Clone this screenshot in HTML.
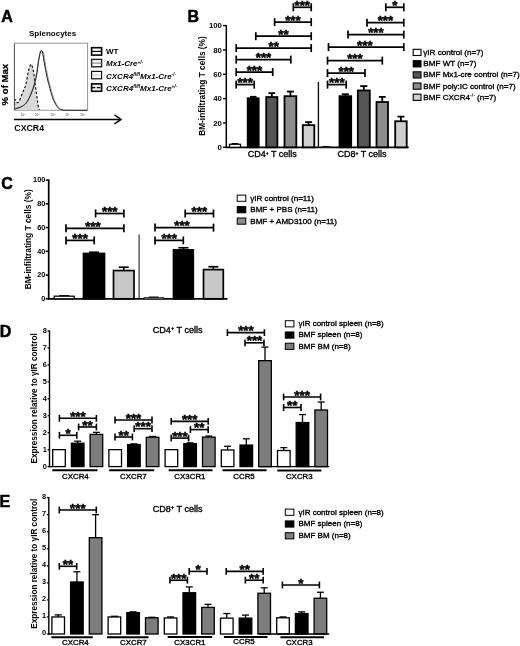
<!DOCTYPE html>
<html lang="en"><head><meta charset="utf-8"><title>Figure</title>
<style>html,body{margin:0;padding:0;background:#fff}body{width:520px;height:646px;overflow:hidden}svg{display:block;filter:blur(0.35px);font-family:'Liberation Sans', Arial, sans-serif}</style>
</head><body>
<svg width="520" height="646" viewBox="0 0 520 646">
<rect x="0" y="0" width="520" height="646" fill="#fff"/>
<text x="1.2" y="22" font-size="16" font-weight="bold" font-style="normal" text-anchor="start" fill="#000" stroke="#000" stroke-width="0.5">A</text>
<text x="52.6" y="35.5" font-size="8.0" font-weight="bold" font-style="normal" text-anchor="middle" fill="#000">Splenocytes</text>
<rect x="14.3" y="43.2" width="73.3" height="67" fill="#fff" stroke="#8a8a8a" stroke-width="0.9"/>
<path d="M14.6,109.8 C14.60,108.42 14.42,103.18 14.6,101.5 C14.78,99.82 15.27,99.48 15.7,99.7 C16.13,99.92 16.58,102.65 17.2,102.8 C17.82,102.95 18.67,101.87 19.4,100.6 C20.13,99.33 20.90,96.92 21.6,95.2 C22.30,93.48 22.93,91.97 23.6,90.3 C24.27,88.63 24.88,87.92 25.6,85.2 C26.32,82.48 27.27,76.97 27.9,74 C28.53,71.03 28.88,69.02 29.4,67.4 C29.92,65.78 30.55,64.50 31.0,64.3 C31.45,64.10 31.65,64.80 32.1,66.2 C32.55,67.60 33.17,69.43 33.7,72.7 C34.23,75.97 34.75,81.72 35.3,85.8 C35.85,89.88 36.53,93.93 37,97.2 C37.47,100.47 37.72,103.30 38.1,105.4 C38.48,107.50 39.10,109.07 39.3,109.8 Z" fill="#d9d9d9" stroke="none"/>
<path d="M14.6,109.8 C14.60,108.42 14.42,103.18 14.6,101.5 C14.78,99.82 15.27,99.48 15.7,99.7 C16.13,99.92 16.58,102.65 17.2,102.8 C17.82,102.95 18.67,101.87 19.4,100.6 C20.13,99.33 20.90,96.92 21.6,95.2 C22.30,93.48 22.93,91.97 23.6,90.3 C24.27,88.63 24.88,87.92 25.6,85.2 C26.32,82.48 27.27,76.97 27.9,74 C28.53,71.03 28.88,69.02 29.4,67.4 C29.92,65.78 30.55,64.50 31.0,64.3 C31.45,64.10 31.65,64.80 32.1,66.2 C32.55,67.60 33.17,69.43 33.7,72.7 C34.23,75.97 34.75,81.72 35.3,85.8 C35.85,89.88 36.53,93.93 37,97.2 C37.47,100.47 37.72,103.30 38.1,105.4 C38.48,107.50 39.10,109.07 39.3,109.8" fill="none" stroke="#111" stroke-width="1.15" stroke-dasharray="2.6 1.8"/>
<path d="M14.1,109.7 C14.28,109.58 14.47,109.28 15.2,109.0 C15.93,108.72 17.40,108.40 18.5,108.0 C19.60,107.60 20.58,107.38 21.8,106.6 C23.02,105.82 24.45,105.07 25.8,103.3 C27.15,101.53 28.53,99.13 29.9,96.0 C31.27,92.87 32.90,88.32 34.0,84.5 C35.10,80.68 35.82,76.92 36.5,73.1 C37.18,69.28 37.57,64.87 38.1,61.6 C38.63,58.33 39.23,55.27 39.7,53.5 C40.17,51.73 40.25,51.07 40.9,51.0 C41.55,50.93 42.88,51.12 43.6,53.1 C44.32,55.08 44.52,59.08 45.2,62.9 C45.88,66.72 46.88,72.18 47.7,76 C48.52,79.82 49.15,82.27 50.1,85.8 C51.05,89.33 52.30,94.07 53.4,97.2 C54.50,100.33 55.62,102.70 56.7,104.6 C57.78,106.50 58.82,107.70 59.9,108.6 C60.98,109.50 62.65,109.77 63.2,110" fill="none" stroke="#9a9a9a" stroke-width="1.0"/>
<path d="M14.6,109.3 C14.78,109.18 14.97,108.88 15.7,108.6 C16.43,108.32 17.90,108.00 19,107.6 C20.10,107.20 21.08,106.98 22.3,106.2 C23.52,105.42 24.95,104.67 26.3,102.9 C27.65,101.13 29.03,98.73 30.4,95.6 C31.77,92.47 33.40,87.92 34.5,84.1 C35.60,80.28 36.32,76.52 37,72.7 C37.68,68.88 38.07,64.47 38.6,61.2 C39.13,57.93 39.73,54.87 40.2,53.1 C40.67,51.33 40.98,50.60 41.4,50.6 C41.82,50.60 42.22,51.05 42.7,53.1 C43.18,55.15 43.62,59.08 44.3,62.9 C44.98,66.72 45.98,72.18 46.8,76 C47.62,79.82 48.25,82.27 49.2,85.8 C50.15,89.33 51.40,94.07 52.5,97.2 C53.60,100.33 54.72,102.70 55.8,104.6 C56.88,106.50 57.92,107.70 59,108.6 C60.08,109.50 60.47,109.72 62.3,110 C64.13,110.28 65.83,110.25 70,110.3 C74.17,110.35 84.42,110.30 87.3,110.3" fill="none" stroke="#1a1a1a" stroke-width="1.0"/>
<line x1="14.5" y1="44" x2="14.5" y2="110.3" stroke="#555" stroke-width="0.9"/>
<text x="8.3" y="84.6" font-size="9.6" font-weight="bold" font-style="normal" text-anchor="middle" fill="#000" transform="rotate(-90 8.3 84.6)" stroke="#000" stroke-width="0.25">% of Max</text>
<text x="23.1" y="116.3" font-size="3.0" font-weight="normal" font-style="normal" text-anchor="middle" fill="#444">10<tspan font-size="2.2" dy="-1.3">1</tspan></text>
<text x="37" y="116.3" font-size="3.0" font-weight="normal" font-style="normal" text-anchor="middle" fill="#444">10<tspan font-size="2.2" dy="-1.3">2</tspan></text>
<text x="52.8" y="116.3" font-size="3.0" font-weight="normal" font-style="normal" text-anchor="middle" fill="#444">10<tspan font-size="2.2" dy="-1.3">3</tspan></text>
<text x="67.5" y="116.3" font-size="3.0" font-weight="normal" font-style="normal" text-anchor="middle" fill="#444">10<tspan font-size="2.2" dy="-1.3">4</tspan></text>
<text x="82.7" y="116.3" font-size="3.0" font-weight="normal" font-style="normal" text-anchor="middle" fill="#444">10<tspan font-size="2.2" dy="-1.3">5</tspan></text>
<line x1="14" y1="119.4" x2="120" y2="119.4" stroke="#000" stroke-width="1.5"/>
<path d="M114.5,114.9 L121,119.4 L114.5,123.9" fill="none" stroke="#000" stroke-width="1.5"/>
<text x="14.3" y="130.7" font-size="8.8" font-weight="bold" font-style="normal" text-anchor="start" fill="#000">CXCR4</text>
<rect x="91.6" y="47.7" width="10" height="7.4" fill="#fff" stroke="#000" stroke-width="1.6"/>
<line x1="91.9" y1="51.4" x2="101.3" y2="51.4" stroke="#000" stroke-width="1.2"/>
<rect x="91.6" y="59.4" width="10" height="7.4" fill="#fff" stroke="#222" stroke-width="1.4"/>
<line x1="91.9" y1="63.1" x2="101.3" y2="63.1" stroke="#888" stroke-width="1.2"/>
<rect x="91.6" y="71.4" width="10" height="7.4" fill="#fff" stroke="#111" stroke-width="1.2"/>
<line x1="91.9" y1="75.1" x2="101.3" y2="75.1" stroke="#ccc" stroke-width="1.2"/>
<rect x="91.6" y="83.9" width="10" height="7.4" fill="#ececec" stroke="#000" stroke-width="1.6"/>
<line x1="91.9" y1="87.6" x2="101.3" y2="87.6" stroke="#000" stroke-width="1.2" stroke-dasharray="3.4 1.6"/>
<text x="106" y="54.2" font-size="8.0" font-weight="bold" font-style="normal" text-anchor="start" fill="#000">WT</text>
<text x="106" y="66.4" font-size="8.0" font-weight="bold" font-style="italic">Mx1-Cre<tspan font-size="4.6" dy="-2.6">+/-</tspan></text>
<text x="106" y="78.7" font-size="8.0" font-weight="bold" font-style="italic">CXCR4<tspan font-size="4.6" dy="-2.6">fl/fl</tspan><tspan dy="2.6">Mx1-Cre</tspan><tspan font-size="4.6" dy="-2.6">-/-</tspan></text>
<text x="106" y="90.7" font-size="8.0" font-weight="bold" font-style="italic">CXCR4<tspan font-size="4.6" dy="-2.6">fl/fl</tspan><tspan dy="2.6">Mx1-Cre</tspan><tspan font-size="4.6" dy="-2.6">+/-</tspan></text>
<text x="187.5" y="22" font-size="16" font-weight="bold" font-style="normal" text-anchor="start" fill="#000" stroke="#000" stroke-width="0.5">B</text>
<line x1="226.3" y1="148.0" x2="226.3" y2="24.9" stroke="#000" stroke-width="1.5"/>
<line x1="223.0" y1="147.3" x2="226.3" y2="147.3" stroke="#000" stroke-width="1.4"/>
<text x="221.9" y="149.9" font-size="7.8" font-weight="bold" font-style="normal" text-anchor="end" fill="#000">0</text>
<line x1="223.0" y1="122.96" x2="226.3" y2="122.96" stroke="#000" stroke-width="1.4"/>
<text x="221.9" y="125.56" font-size="7.8" font-weight="bold" font-style="normal" text-anchor="end" fill="#000">20</text>
<line x1="223.0" y1="98.62" x2="226.3" y2="98.62" stroke="#000" stroke-width="1.4"/>
<text x="221.9" y="101.22" font-size="7.8" font-weight="bold" font-style="normal" text-anchor="end" fill="#000">40</text>
<line x1="223.0" y1="74.28" x2="226.3" y2="74.28" stroke="#000" stroke-width="1.4"/>
<text x="221.9" y="76.88" font-size="7.8" font-weight="bold" font-style="normal" text-anchor="end" fill="#000">60</text>
<line x1="223.0" y1="49.94" x2="226.3" y2="49.94" stroke="#000" stroke-width="1.4"/>
<text x="221.9" y="52.54" font-size="7.8" font-weight="bold" font-style="normal" text-anchor="end" fill="#000">80</text>
<line x1="223.0" y1="25.6" x2="226.3" y2="25.6" stroke="#000" stroke-width="1.4"/>
<text x="221.9" y="28.2" font-size="7.8" font-weight="bold" font-style="normal" text-anchor="end" fill="#000">100</text>
<line x1="225.5" y1="147.3" x2="408.7" y2="147.3" stroke="#000" stroke-width="1.7"/>
<text x="205.3" y="86" font-size="8.3" font-weight="bold" font-style="normal" text-anchor="middle" fill="#000" transform="rotate(-90 205.3 86)">BM-infiltrating T cells (%)</text>
<line x1="235.0" y1="144.26" x2="235.0" y2="143.89" stroke="#000" stroke-width="1.8"/>
<line x1="231.7" y1="143.89" x2="238.3" y2="143.89" stroke="#000" stroke-width="1.8"/>
<rect x="229.5" y="144.26" width="11" height="3.04" fill="#fff" stroke="#000" stroke-width="1.25"/>
<line x1="253.2" y1="98.25" x2="253.2" y2="96.79" stroke="#000" stroke-width="1.8"/>
<line x1="249.9" y1="96.79" x2="256.5" y2="96.79" stroke="#000" stroke-width="1.8"/>
<rect x="247.7" y="98.25" width="11" height="49.05" fill="#000" stroke="#000" stroke-width="1.8"/>
<line x1="271.8" y1="97.04" x2="271.8" y2="93.14" stroke="#000" stroke-width="1.8"/>
<line x1="268.44" y1="93.14" x2="275.16" y2="93.14" stroke="#000" stroke-width="1.8"/>
<rect x="266.2" y="97.04" width="11.2" height="50.26" fill="#555" stroke="#000" stroke-width="1.8"/>
<line x1="290.4" y1="96.19" x2="290.4" y2="91.56" stroke="#000" stroke-width="1.8"/>
<line x1="286.86" y1="91.56" x2="293.94" y2="91.56" stroke="#000" stroke-width="1.8"/>
<rect x="284.5" y="96.19" width="11.8" height="51.11" fill="#8c8c8c" stroke="#000" stroke-width="1.8"/>
<line x1="308.55" y1="125.15" x2="308.55" y2="122.11" stroke="#000" stroke-width="1.8"/>
<line x1="305.1" y1="122.11" x2="312.0" y2="122.11" stroke="#000" stroke-width="1.8"/>
<rect x="302.8" y="125.15" width="11.5" height="22.15" fill="#cfcfcf" stroke="#000" stroke-width="1.8"/>
<line x1="318.4" y1="82" x2="318.4" y2="147.3" stroke="#111" stroke-width="1.4"/>
<line x1="325.95" y1="146.93" x2="325.95" y2="146.81" stroke="#000" stroke-width="1.8"/>
<line x1="323.1" y1="146.81" x2="328.8" y2="146.81" stroke="#000" stroke-width="1.8"/>
<rect x="321.2" y="146.93" width="9.5" height="0.37" fill="#fff" stroke="#000" stroke-width="0.7"/>
<line x1="345.35" y1="96.19" x2="345.35" y2="94.24" stroke="#000" stroke-width="1.8"/>
<line x1="341.84" y1="94.24" x2="348.86" y2="94.24" stroke="#000" stroke-width="1.8"/>
<rect x="339.5" y="96.19" width="11.7" height="51.11" fill="#000" stroke="#000" stroke-width="1.8"/>
<line x1="363.8" y1="90.47" x2="363.8" y2="86.08" stroke="#000" stroke-width="1.8"/>
<line x1="360.2" y1="86.08" x2="367.4" y2="86.08" stroke="#000" stroke-width="1.8"/>
<rect x="357.8" y="90.47" width="12" height="56.83" fill="#555" stroke="#000" stroke-width="1.8"/>
<line x1="382.25" y1="102.03" x2="382.25" y2="96.92" stroke="#000" stroke-width="1.8"/>
<line x1="378.8" y1="96.92" x2="385.7" y2="96.92" stroke="#000" stroke-width="1.8"/>
<rect x="376.5" y="102.03" width="11.5" height="45.27" fill="#8c8c8c" stroke="#000" stroke-width="1.8"/>
<line x1="400.95" y1="121.26" x2="400.95" y2="116.63" stroke="#000" stroke-width="1.8"/>
<line x1="397.5" y1="116.63" x2="404.4" y2="116.63" stroke="#000" stroke-width="1.8"/>
<rect x="395.2" y="121.26" width="11.5" height="26.04" fill="#cfcfcf" stroke="#000" stroke-width="1.8"/>
<text x="272.3" y="157.4" font-size="9.0" font-weight="normal" font-style="normal" text-anchor="middle" fill="#000" stroke="#000" stroke-width="0.34">CD4<tspan font-size="5" dy="-2.8">+</tspan><tspan dy="2.8"> T cells</tspan></text>
<text x="362.0" y="157.4" font-size="9.0" font-weight="normal" font-style="normal" text-anchor="middle" fill="#000" stroke="#000" stroke-width="0.34">CD8<tspan font-size="5" dy="-2.8">+</tspan><tspan dy="2.8"> T cells</tspan></text>
<line x1="236.2" y1="84.6" x2="254.2" y2="84.6" stroke="#000" stroke-width="1.7"/>
<line x1="236.2" y1="80.6" x2="236.2" y2="88.6" stroke="#000" stroke-width="1.7"/>
<line x1="254.2" y1="80.6" x2="254.2" y2="88.6" stroke="#000" stroke-width="1.7"/>
<text x="245.2" y="87.1" font-size="13.3" font-weight="bold" font-style="normal" text-anchor="middle" fill="#000" stroke="#000" stroke-width="0.45">***</text>
<line x1="236.2" y1="72.1" x2="272.7" y2="72.1" stroke="#000" stroke-width="1.7"/>
<line x1="236.2" y1="68.1" x2="236.2" y2="76.1" stroke="#000" stroke-width="1.7"/>
<line x1="272.7" y1="68.1" x2="272.7" y2="76.1" stroke="#000" stroke-width="1.7"/>
<text x="254.45" y="74.6" font-size="13.3" font-weight="bold" font-style="normal" text-anchor="middle" fill="#000" stroke="#000" stroke-width="0.45">***</text>
<line x1="236.2" y1="59.6" x2="290.8" y2="59.6" stroke="#000" stroke-width="1.7"/>
<line x1="236.2" y1="55.6" x2="236.2" y2="63.6" stroke="#000" stroke-width="1.7"/>
<line x1="290.8" y1="55.6" x2="290.8" y2="63.6" stroke="#000" stroke-width="1.7"/>
<text x="263.5" y="62.1" font-size="13.3" font-weight="bold" font-style="normal" text-anchor="middle" fill="#000" stroke="#000" stroke-width="0.45">***</text>
<line x1="236.2" y1="48.1" x2="311.2" y2="48.1" stroke="#000" stroke-width="1.7"/>
<line x1="236.2" y1="44.1" x2="236.2" y2="52.1" stroke="#000" stroke-width="1.7"/>
<line x1="311.2" y1="44.1" x2="311.2" y2="52.1" stroke="#000" stroke-width="1.7"/>
<text x="273.7" y="50.6" font-size="13.3" font-weight="bold" font-style="normal" text-anchor="middle" fill="#000" stroke="#000" stroke-width="0.45">**</text>
<line x1="255.8" y1="36.2" x2="311.2" y2="36.2" stroke="#000" stroke-width="1.7"/>
<line x1="255.8" y1="32.2" x2="255.8" y2="40.2" stroke="#000" stroke-width="1.7"/>
<line x1="311.2" y1="32.2" x2="311.2" y2="40.2" stroke="#000" stroke-width="1.7"/>
<text x="283.5" y="38.7" font-size="13.3" font-weight="bold" font-style="normal" text-anchor="middle" fill="#000" stroke="#000" stroke-width="0.45">**</text>
<line x1="274.6" y1="22.1" x2="311.2" y2="22.1" stroke="#000" stroke-width="1.7"/>
<line x1="274.6" y1="18.1" x2="274.6" y2="26.1" stroke="#000" stroke-width="1.7"/>
<line x1="311.2" y1="18.1" x2="311.2" y2="26.1" stroke="#000" stroke-width="1.7"/>
<text x="292.9" y="24.6" font-size="13.3" font-weight="bold" font-style="normal" text-anchor="middle" fill="#000" stroke="#000" stroke-width="0.45">***</text>
<line x1="293.3" y1="7.3" x2="311.2" y2="7.3" stroke="#000" stroke-width="1.7"/>
<line x1="293.3" y1="3.3" x2="293.3" y2="11.3" stroke="#000" stroke-width="1.7"/>
<line x1="311.2" y1="3.3" x2="311.2" y2="11.3" stroke="#000" stroke-width="1.7"/>
<text x="302.25" y="9.8" font-size="13.3" font-weight="bold" font-style="normal" text-anchor="middle" fill="#000" stroke="#000" stroke-width="0.45">***</text>
<line x1="327.5" y1="84.6" x2="346.2" y2="84.6" stroke="#000" stroke-width="1.7"/>
<line x1="327.5" y1="80.6" x2="327.5" y2="88.6" stroke="#000" stroke-width="1.7"/>
<line x1="346.2" y1="80.6" x2="346.2" y2="88.6" stroke="#000" stroke-width="1.7"/>
<text x="336.85" y="87.1" font-size="13.3" font-weight="bold" font-style="normal" text-anchor="middle" fill="#000" stroke="#000" stroke-width="0.45">***</text>
<line x1="327.5" y1="73.1" x2="365" y2="73.1" stroke="#000" stroke-width="1.7"/>
<line x1="327.5" y1="69.1" x2="327.5" y2="77.1" stroke="#000" stroke-width="1.7"/>
<line x1="365" y1="69.1" x2="365" y2="77.1" stroke="#000" stroke-width="1.7"/>
<text x="346.25" y="75.6" font-size="13.3" font-weight="bold" font-style="normal" text-anchor="middle" fill="#000" stroke="#000" stroke-width="0.45">***</text>
<line x1="327.5" y1="60.6" x2="382.3" y2="60.6" stroke="#000" stroke-width="1.7"/>
<line x1="327.5" y1="56.6" x2="327.5" y2="64.6" stroke="#000" stroke-width="1.7"/>
<line x1="382.3" y1="56.6" x2="382.3" y2="64.6" stroke="#000" stroke-width="1.7"/>
<text x="354.9" y="63.1" font-size="13.3" font-weight="bold" font-style="normal" text-anchor="middle" fill="#000" stroke="#000" stroke-width="0.45">***</text>
<line x1="328.5" y1="47.1" x2="403.8" y2="47.1" stroke="#000" stroke-width="1.7"/>
<line x1="328.5" y1="43.1" x2="328.5" y2="51.1" stroke="#000" stroke-width="1.7"/>
<line x1="403.8" y1="43.1" x2="403.8" y2="51.1" stroke="#000" stroke-width="1.7"/>
<text x="364.8" y="49.6" font-size="13.3" font-weight="bold" font-style="normal" text-anchor="middle" fill="#000" stroke="#000" stroke-width="0.45">***</text>
<line x1="348" y1="34.6" x2="403.8" y2="34.6" stroke="#000" stroke-width="1.7"/>
<line x1="348" y1="30.6" x2="348" y2="38.6" stroke="#000" stroke-width="1.7"/>
<line x1="403.8" y1="30.6" x2="403.8" y2="38.6" stroke="#000" stroke-width="1.7"/>
<text x="375.9" y="37.1" font-size="13.3" font-weight="bold" font-style="normal" text-anchor="middle" fill="#000" stroke="#000" stroke-width="0.45">***</text>
<line x1="367" y1="22.7" x2="403.8" y2="22.7" stroke="#000" stroke-width="1.7"/>
<line x1="367" y1="18.7" x2="367" y2="26.7" stroke="#000" stroke-width="1.7"/>
<line x1="403.8" y1="18.7" x2="403.8" y2="26.7" stroke="#000" stroke-width="1.7"/>
<text x="385.4" y="25.2" font-size="13.3" font-weight="bold" font-style="normal" text-anchor="middle" fill="#000" stroke="#000" stroke-width="0.45">***</text>
<line x1="385.8" y1="7.3" x2="403.8" y2="7.3" stroke="#000" stroke-width="1.7"/>
<line x1="385.8" y1="3.3" x2="385.8" y2="11.3" stroke="#000" stroke-width="1.7"/>
<line x1="403.8" y1="3.3" x2="403.8" y2="11.3" stroke="#000" stroke-width="1.7"/>
<text x="394.8" y="9.8" font-size="13.3" font-weight="bold" font-style="normal" text-anchor="middle" fill="#000" stroke="#000" stroke-width="0.45">*</text>
<rect x="413.2" y="49.3" width="7.8" height="6.2" fill="#fff" stroke="#000" stroke-width="1.1"/>
<text x="423.3" y="54.9" font-size="8.1" font-weight="normal" font-style="normal" text-anchor="start" fill="#000" stroke="#000" stroke-width="0.34">γIR control (n=7)</text>
<rect x="413.2" y="60.7" width="7.8" height="6.2" fill="#000" stroke="#000" stroke-width="1.1"/>
<text x="423.3" y="66.3" font-size="8.1" font-weight="normal" font-style="normal" text-anchor="start" fill="#000" stroke="#000" stroke-width="0.34">BMF WT (n=7)</text>
<rect x="413.2" y="71.8" width="7.8" height="6.2" fill="#555" stroke="#000" stroke-width="1.1"/>
<text x="423.3" y="77.4" font-size="8.1" font-weight="normal" font-style="normal" text-anchor="start" fill="#000" stroke="#000" stroke-width="0.34">BMF Mx1-cre control (n=7)</text>
<rect x="413.2" y="83.0" width="7.8" height="6.2" fill="#8c8c8c" stroke="#000" stroke-width="1.1"/>
<text x="423.3" y="88.6" font-size="8.1" font-weight="normal" font-style="normal" text-anchor="start" fill="#000" stroke="#000" stroke-width="0.34">BMF poly:IC control (n=7)</text>
<rect x="413.2" y="94.2" width="7.8" height="6.2" fill="#cfcfcf" stroke="#000" stroke-width="1.1"/>
<text x="423.3" y="99.8" font-size="8.1" font-weight="normal" font-style="normal" text-anchor="start" fill="#000" stroke="#000" stroke-width="0.34">BMF CXCR4<tspan font-size="5" dy="-2.8" stroke-width="0.1">-/-</tspan><tspan dy="2.8"> (n=7)</tspan></text>
<text x="1.2" y="188.7" font-size="16" font-weight="bold" font-style="normal" text-anchor="start" fill="#000" stroke="#000" stroke-width="0.5">C</text>
<line x1="48.7" y1="299.6" x2="48.7" y2="179.3" stroke="#000" stroke-width="1.7"/>
<line x1="45.7" y1="298.8" x2="48.7" y2="298.8" stroke="#000" stroke-width="1.5"/>
<text x="45.3" y="301.0" font-size="7.3" font-weight="bold" font-style="normal" text-anchor="end" fill="#000">0</text>
<line x1="45.7" y1="275.06" x2="48.7" y2="275.06" stroke="#000" stroke-width="1.5"/>
<text x="45.3" y="277.26" font-size="7.3" font-weight="bold" font-style="normal" text-anchor="end" fill="#000">20</text>
<line x1="45.7" y1="251.32" x2="48.7" y2="251.32" stroke="#000" stroke-width="1.5"/>
<text x="45.3" y="253.52" font-size="7.3" font-weight="bold" font-style="normal" text-anchor="end" fill="#000">40</text>
<line x1="45.7" y1="227.58" x2="48.7" y2="227.58" stroke="#000" stroke-width="1.5"/>
<text x="45.3" y="229.78" font-size="7.3" font-weight="bold" font-style="normal" text-anchor="end" fill="#000">60</text>
<line x1="45.7" y1="203.84" x2="48.7" y2="203.84" stroke="#000" stroke-width="1.5"/>
<text x="45.3" y="206.04" font-size="7.3" font-weight="bold" font-style="normal" text-anchor="end" fill="#000">80</text>
<line x1="45.7" y1="180.1" x2="48.7" y2="180.1" stroke="#000" stroke-width="1.5"/>
<text x="45.3" y="182.3" font-size="7.3" font-weight="bold" font-style="normal" text-anchor="end" fill="#000">100</text>
<line x1="47.9" y1="298.8" x2="227.5" y2="298.8" stroke="#000" stroke-width="1.7"/>
<text x="30.6" y="239.3" font-size="8.35" font-weight="bold" font-style="normal" text-anchor="middle" fill="#000" transform="rotate(-90 30.6 239.3)">BM-infiltrating T cells (%)</text>
<line x1="64.2" y1="296.19" x2="64.2" y2="295.95" stroke="#000" stroke-width="1.7"/>
<line x1="59.2" y1="295.95" x2="69.2" y2="295.95" stroke="#000" stroke-width="1.7"/>
<rect x="54.2" y="296.19" width="20" height="2.61" fill="#fff" stroke="#000" stroke-width="1.25"/>
<line x1="94.0" y1="253.46" x2="94.0" y2="252.27" stroke="#000" stroke-width="1.7"/>
<line x1="89.0" y1="252.27" x2="99.0" y2="252.27" stroke="#000" stroke-width="1.7"/>
<rect x="83.5" y="253.46" width="21" height="45.34" fill="#000" stroke="#000" stroke-width="1.7"/>
<line x1="123.75" y1="270.55" x2="123.75" y2="267.23" stroke="#000" stroke-width="1.7"/>
<line x1="118.75" y1="267.23" x2="128.75" y2="267.23" stroke="#000" stroke-width="1.7"/>
<rect x="113.5" y="270.55" width="20.5" height="28.25" fill="#c8c8c8" stroke="#000" stroke-width="1.7"/>
<line x1="153.75" y1="297.61" x2="153.75" y2="297.38" stroke="#000" stroke-width="1.7"/>
<line x1="148.75" y1="297.38" x2="158.75" y2="297.38" stroke="#000" stroke-width="1.7"/>
<rect x="144" y="297.61" width="19.5" height="1.19" fill="#fff" stroke="#000" stroke-width="0.7"/>
<line x1="183.4" y1="249.9" x2="183.4" y2="247.76" stroke="#000" stroke-width="1.7"/>
<line x1="178.4" y1="247.76" x2="188.4" y2="247.76" stroke="#000" stroke-width="1.7"/>
<rect x="173.5" y="249.9" width="19.8" height="48.9" fill="#000" stroke="#000" stroke-width="1.7"/>
<line x1="213.4" y1="269.6" x2="213.4" y2="266.75" stroke="#000" stroke-width="1.7"/>
<line x1="208.4" y1="266.75" x2="218.4" y2="266.75" stroke="#000" stroke-width="1.7"/>
<rect x="203.5" y="269.6" width="19.8" height="29.2" fill="#c8c8c8" stroke="#000" stroke-width="1.7"/>
<line x1="139.1" y1="234.5" x2="139.1" y2="298.8" stroke="#222" stroke-width="1.1"/>
<line x1="66" y1="240.4" x2="94.2" y2="240.4" stroke="#000" stroke-width="1.7"/>
<line x1="66" y1="236.4" x2="66" y2="244.4" stroke="#000" stroke-width="1.7"/>
<line x1="94.2" y1="236.4" x2="94.2" y2="244.4" stroke="#000" stroke-width="1.7"/>
<text x="80.1" y="242.9" font-size="13.3" font-weight="bold" font-style="normal" text-anchor="middle" fill="#000" stroke="#000" stroke-width="0.45">***</text>
<line x1="66" y1="228.3" x2="123.9" y2="228.3" stroke="#000" stroke-width="1.7"/>
<line x1="66" y1="224.3" x2="66" y2="232.3" stroke="#000" stroke-width="1.7"/>
<line x1="123.9" y1="224.3" x2="123.9" y2="232.3" stroke="#000" stroke-width="1.7"/>
<text x="93" y="230.8" font-size="13.3" font-weight="bold" font-style="normal" text-anchor="middle" fill="#000" stroke="#000" stroke-width="0.45">***</text>
<line x1="95.6" y1="213.5" x2="123.9" y2="213.5" stroke="#000" stroke-width="1.7"/>
<line x1="95.6" y1="209.5" x2="95.6" y2="217.5" stroke="#000" stroke-width="1.7"/>
<line x1="123.9" y1="209.5" x2="123.9" y2="217.5" stroke="#000" stroke-width="1.7"/>
<text x="109.75" y="216.0" font-size="13.3" font-weight="bold" font-style="normal" text-anchor="middle" fill="#000" stroke="#000" stroke-width="0.45">***</text>
<line x1="155" y1="240.4" x2="183.3" y2="240.4" stroke="#000" stroke-width="1.7"/>
<line x1="155" y1="236.4" x2="155" y2="244.4" stroke="#000" stroke-width="1.7"/>
<line x1="183.3" y1="236.4" x2="183.3" y2="244.4" stroke="#000" stroke-width="1.7"/>
<text x="169.15" y="242.9" font-size="13.3" font-weight="bold" font-style="normal" text-anchor="middle" fill="#000" stroke="#000" stroke-width="0.45">***</text>
<line x1="155" y1="227.6" x2="213.5" y2="227.6" stroke="#000" stroke-width="1.7"/>
<line x1="155" y1="223.6" x2="155" y2="231.6" stroke="#000" stroke-width="1.7"/>
<line x1="213.5" y1="223.6" x2="213.5" y2="231.6" stroke="#000" stroke-width="1.7"/>
<text x="182" y="230.1" font-size="13.3" font-weight="bold" font-style="normal" text-anchor="middle" fill="#000" stroke="#000" stroke-width="0.45">***</text>
<line x1="185.2" y1="213.5" x2="213.5" y2="213.5" stroke="#000" stroke-width="1.7"/>
<line x1="185.2" y1="209.5" x2="185.2" y2="217.5" stroke="#000" stroke-width="1.7"/>
<line x1="213.5" y1="209.5" x2="213.5" y2="217.5" stroke="#000" stroke-width="1.7"/>
<text x="199.35" y="216.0" font-size="13.3" font-weight="bold" font-style="normal" text-anchor="middle" fill="#000" stroke="#000" stroke-width="0.45">***</text>
<rect x="237.2" y="195.1" width="8.6" height="6.2" fill="#fff" stroke="#000" stroke-width="1.0"/>
<text x="250.3" y="200.9" font-size="8.05" font-weight="normal" font-style="normal" text-anchor="start" fill="#000" stroke="#000" stroke-width="0.34">γIR control (n=11)</text>
<rect x="237.2" y="206.6" width="8.6" height="6.2" fill="#000" stroke="#000" stroke-width="1.0"/>
<text x="250.3" y="212.4" font-size="8.05" font-weight="normal" font-style="normal" text-anchor="start" fill="#000" stroke="#000" stroke-width="0.34">BMF + PBS (n=11)</text>
<rect x="237.2" y="218.0" width="8.6" height="6.2" fill="#8c8c8c" stroke="#000" stroke-width="1.0"/>
<text x="250.3" y="223.8" font-size="8.05" font-weight="normal" font-style="normal" text-anchor="start" fill="#000" stroke="#000" stroke-width="0.34">BMF + AMD3100 (n=11)</text>
<text x="-0.2" y="337.0" font-size="16" font-weight="bold" font-style="normal" text-anchor="start" fill="#000" stroke="#000" stroke-width="0.5">D</text>
<line x1="49.5" y1="467.3" x2="49.5" y2="330.35" stroke="#000" stroke-width="1.4"/>
<line x1="47.6" y1="466.6" x2="49.5" y2="466.6" stroke="#000" stroke-width="1.3"/>
<text x="46.8" y="468.8" font-size="7.4" font-weight="bold" font-style="normal" text-anchor="end" fill="#000">0</text>
<line x1="47.6" y1="449.65" x2="49.5" y2="449.65" stroke="#000" stroke-width="1.3"/>
<text x="46.8" y="451.85" font-size="7.4" font-weight="bold" font-style="normal" text-anchor="end" fill="#000">1</text>
<line x1="47.6" y1="432.7" x2="49.5" y2="432.7" stroke="#000" stroke-width="1.3"/>
<text x="46.8" y="434.9" font-size="7.4" font-weight="bold" font-style="normal" text-anchor="end" fill="#000">2</text>
<line x1="47.6" y1="415.75" x2="49.5" y2="415.75" stroke="#000" stroke-width="1.3"/>
<text x="46.8" y="417.95" font-size="7.4" font-weight="bold" font-style="normal" text-anchor="end" fill="#000">3</text>
<line x1="47.6" y1="398.8" x2="49.5" y2="398.8" stroke="#000" stroke-width="1.3"/>
<text x="46.8" y="401" font-size="7.4" font-weight="bold" font-style="normal" text-anchor="end" fill="#000">4</text>
<line x1="47.6" y1="381.85" x2="49.5" y2="381.85" stroke="#000" stroke-width="1.3"/>
<text x="46.8" y="384.05" font-size="7.4" font-weight="bold" font-style="normal" text-anchor="end" fill="#000">5</text>
<line x1="47.6" y1="364.9" x2="49.5" y2="364.9" stroke="#000" stroke-width="1.3"/>
<text x="46.8" y="367.1" font-size="7.4" font-weight="bold" font-style="normal" text-anchor="end" fill="#000">6</text>
<line x1="47.6" y1="347.95" x2="49.5" y2="347.95" stroke="#000" stroke-width="1.3"/>
<text x="46.8" y="350.15" font-size="7.4" font-weight="bold" font-style="normal" text-anchor="end" fill="#000">7</text>
<line x1="47.6" y1="331.0" x2="49.5" y2="331.0" stroke="#000" stroke-width="1.3"/>
<text x="46.8" y="333.2" font-size="7.4" font-weight="bold" font-style="normal" text-anchor="end" fill="#000">8</text>
<line x1="48.8" y1="466.6" x2="52.5" y2="466.6" stroke="#000" stroke-width="1.4"/>
<text x="37.2" y="398.4" font-size="8.2" font-weight="bold" font-style="normal" text-anchor="middle" fill="#000" transform="rotate(-90 37.2 398.4)">Expression relative to γIR control</text>
<text x="177.7" y="333" font-size="9.1" font-weight="normal" font-style="normal" text-anchor="middle" fill="#000" stroke="#000" stroke-width="0.34">CD4<tspan font-size="5.5" dy="-3">+</tspan><tspan dy="3"> T cells</tspan></text>
<rect x="52.7" y="449.65" width="12.6" height="16.95" fill="#fff" stroke="#000" stroke-width="1.3"/>
<line x1="77.7" y1="443.21" x2="77.7" y2="441.18" stroke="#000" stroke-width="1.3"/>
<line x1="74.2" y1="441.18" x2="81.2" y2="441.18" stroke="#000" stroke-width="1.3"/>
<rect x="71.4" y="443.21" width="12.6" height="23.39" fill="#000" stroke="#000" stroke-width="1.3"/>
<line x1="96.4" y1="434.4" x2="96.4" y2="432.36" stroke="#000" stroke-width="1.3"/>
<line x1="92.9" y1="432.36" x2="99.9" y2="432.36" stroke="#000" stroke-width="1.3"/>
<rect x="90.1" y="434.4" width="12.6" height="32.2" fill="#7d7d7d" stroke="#000" stroke-width="1.3"/>
<line x1="52.3" y1="470.3" x2="97.5" y2="470.3" stroke="#000" stroke-width="2.0"/>
<text x="75.4" y="479.0" font-size="7.9" font-weight="normal" font-style="normal" text-anchor="middle" fill="#000" stroke="#000" stroke-width="0.34">CXCR4</text>
<rect x="108.9" y="449.65" width="12.6" height="16.95" fill="#fff" stroke="#000" stroke-width="1.3"/>
<line x1="133.9" y1="444.56" x2="133.9" y2="443.89" stroke="#000" stroke-width="1.3"/>
<line x1="130.4" y1="443.89" x2="137.4" y2="443.89" stroke="#000" stroke-width="1.3"/>
<rect x="127.6" y="444.56" width="12.6" height="22.04" fill="#000" stroke="#000" stroke-width="1.3"/>
<line x1="152.6" y1="437.28" x2="152.6" y2="436.43" stroke="#000" stroke-width="1.3"/>
<line x1="149.1" y1="436.43" x2="156.1" y2="436.43" stroke="#000" stroke-width="1.3"/>
<rect x="146.3" y="437.28" width="12.6" height="29.32" fill="#7d7d7d" stroke="#000" stroke-width="1.3"/>
<line x1="109.2" y1="470.3" x2="154.2" y2="470.3" stroke="#000" stroke-width="2.0"/>
<text x="133.4" y="479.0" font-size="7.9" font-weight="normal" font-style="normal" text-anchor="middle" fill="#000" stroke="#000" stroke-width="0.34">CXCR7</text>
<rect x="165.1" y="449.65" width="12.6" height="16.95" fill="#fff" stroke="#000" stroke-width="1.3"/>
<line x1="190.1" y1="443.72" x2="190.1" y2="442.87" stroke="#000" stroke-width="1.3"/>
<line x1="186.6" y1="442.87" x2="193.6" y2="442.87" stroke="#000" stroke-width="1.3"/>
<rect x="183.8" y="443.72" width="12.6" height="22.88" fill="#000" stroke="#000" stroke-width="1.3"/>
<line x1="208.8" y1="437.11" x2="208.8" y2="436.09" stroke="#000" stroke-width="1.3"/>
<line x1="205.3" y1="436.09" x2="212.3" y2="436.09" stroke="#000" stroke-width="1.3"/>
<rect x="202.5" y="437.11" width="12.6" height="29.49" fill="#7d7d7d" stroke="#000" stroke-width="1.3"/>
<line x1="168.7" y1="470.2" x2="212.5" y2="470.2" stroke="#000" stroke-width="2.0"/>
<text x="189.9" y="478.8" font-size="7.9" font-weight="normal" font-style="normal" text-anchor="middle" fill="#000" stroke="#000" stroke-width="0.34">CX3CR1</text>
<line x1="227.6" y1="449.99" x2="227.6" y2="446.26" stroke="#000" stroke-width="1.3"/>
<line x1="224.1" y1="446.26" x2="231.1" y2="446.26" stroke="#000" stroke-width="1.3"/>
<rect x="221.3" y="449.99" width="12.6" height="16.61" fill="#fff" stroke="#000" stroke-width="1.3"/>
<line x1="246.3" y1="445.07" x2="246.3" y2="438.8" stroke="#000" stroke-width="1.3"/>
<line x1="242.8" y1="438.8" x2="249.8" y2="438.8" stroke="#000" stroke-width="1.3"/>
<rect x="240.0" y="445.07" width="12.6" height="21.53" fill="#000" stroke="#000" stroke-width="1.3"/>
<line x1="265" y1="360.66" x2="265" y2="347.1" stroke="#000" stroke-width="1.3"/>
<line x1="261.5" y1="347.1" x2="268.5" y2="347.1" stroke="#000" stroke-width="1.3"/>
<rect x="258.7" y="360.66" width="12.6" height="105.94" fill="#7d7d7d" stroke="#000" stroke-width="1.3"/>
<line x1="222.5" y1="470.2" x2="266.6" y2="470.2" stroke="#000" stroke-width="2.0"/>
<text x="244" y="478.8" font-size="7.9" font-weight="normal" font-style="normal" text-anchor="middle" fill="#000" stroke="#000" stroke-width="0.34">CCR5</text>
<line x1="283.8" y1="450.5" x2="283.8" y2="447.62" stroke="#000" stroke-width="1.3"/>
<line x1="280.3" y1="447.62" x2="287.3" y2="447.62" stroke="#000" stroke-width="1.3"/>
<rect x="277.5" y="450.5" width="12.6" height="16.1" fill="#fff" stroke="#000" stroke-width="1.3"/>
<line x1="302.5" y1="422.53" x2="302.5" y2="414.56" stroke="#000" stroke-width="1.3"/>
<line x1="299" y1="414.56" x2="306" y2="414.56" stroke="#000" stroke-width="1.3"/>
<rect x="296.2" y="422.53" width="12.6" height="44.07" fill="#000" stroke="#000" stroke-width="1.3"/>
<line x1="321.2" y1="409.99" x2="321.2" y2="402.02" stroke="#000" stroke-width="1.3"/>
<line x1="317.7" y1="402.02" x2="324.7" y2="402.02" stroke="#000" stroke-width="1.3"/>
<rect x="314.9" y="409.99" width="12.6" height="56.61" fill="#7d7d7d" stroke="#000" stroke-width="1.3"/>
<line x1="277.3" y1="470.6" x2="321.4" y2="470.6" stroke="#000" stroke-width="2.0"/>
<text x="299.3" y="478.9" font-size="7.9" font-weight="normal" font-style="normal" text-anchor="middle" fill="#000" stroke="#000" stroke-width="0.34">CXCR3</text>
<line x1="259" y1="466.6" x2="329.2" y2="466.6" stroke="#000" stroke-width="1.3"/>
<line x1="59.4" y1="418.3" x2="96.4" y2="418.3" stroke="#000" stroke-width="1.6"/>
<line x1="59.4" y1="414.9" x2="59.4" y2="421.7" stroke="#000" stroke-width="1.6"/>
<line x1="96.4" y1="414.9" x2="96.4" y2="421.7" stroke="#000" stroke-width="1.6"/>
<text x="77.9" y="420.8" font-size="13.3" font-weight="bold" font-style="normal" text-anchor="middle" fill="#000" stroke="#000" stroke-width="0.45">***</text>
<line x1="59.4" y1="435.3" x2="76.8" y2="435.3" stroke="#000" stroke-width="1.6"/>
<line x1="59.4" y1="431.9" x2="59.4" y2="438.7" stroke="#000" stroke-width="1.6"/>
<line x1="76.8" y1="431.9" x2="76.8" y2="438.7" stroke="#000" stroke-width="1.6"/>
<text x="68.1" y="437.8" font-size="13.3" font-weight="bold" font-style="normal" text-anchor="middle" fill="#000" stroke="#000" stroke-width="0.45">*</text>
<line x1="78.6" y1="427" x2="96.4" y2="427" stroke="#000" stroke-width="1.6"/>
<line x1="78.6" y1="423.6" x2="78.6" y2="430.4" stroke="#000" stroke-width="1.6"/>
<line x1="96.4" y1="423.6" x2="96.4" y2="430.4" stroke="#000" stroke-width="1.6"/>
<text x="87.5" y="429.5" font-size="13.3" font-weight="bold" font-style="normal" text-anchor="middle" fill="#000" stroke="#000" stroke-width="0.45">**</text>
<line x1="115" y1="420" x2="152" y2="420" stroke="#000" stroke-width="1.6"/>
<line x1="115" y1="416.6" x2="115" y2="423.4" stroke="#000" stroke-width="1.6"/>
<line x1="152" y1="416.6" x2="152" y2="423.4" stroke="#000" stroke-width="1.6"/>
<text x="133.5" y="422.5" font-size="13.3" font-weight="bold" font-style="normal" text-anchor="middle" fill="#000" stroke="#000" stroke-width="0.45">***</text>
<line x1="115" y1="437" x2="132.4" y2="437" stroke="#000" stroke-width="1.6"/>
<line x1="115" y1="433.6" x2="115" y2="440.4" stroke="#000" stroke-width="1.6"/>
<line x1="132.4" y1="433.6" x2="132.4" y2="440.4" stroke="#000" stroke-width="1.6"/>
<text x="123.7" y="439.5" font-size="13.3" font-weight="bold" font-style="normal" text-anchor="middle" fill="#000" stroke="#000" stroke-width="0.45">**</text>
<line x1="134.2" y1="428.7" x2="152" y2="428.7" stroke="#000" stroke-width="1.6"/>
<line x1="134.2" y1="425.3" x2="134.2" y2="432.1" stroke="#000" stroke-width="1.6"/>
<line x1="152" y1="425.3" x2="152" y2="432.1" stroke="#000" stroke-width="1.6"/>
<text x="143.1" y="431.2" font-size="13.3" font-weight="bold" font-style="normal" text-anchor="middle" fill="#000" stroke="#000" stroke-width="0.45">***</text>
<line x1="171.2" y1="421.4" x2="208.2" y2="421.4" stroke="#000" stroke-width="1.6"/>
<line x1="171.2" y1="418.0" x2="171.2" y2="424.8" stroke="#000" stroke-width="1.6"/>
<line x1="208.2" y1="418.0" x2="208.2" y2="424.8" stroke="#000" stroke-width="1.6"/>
<text x="189.7" y="423.9" font-size="13.3" font-weight="bold" font-style="normal" text-anchor="middle" fill="#000" stroke="#000" stroke-width="0.45">***</text>
<line x1="171.2" y1="438.1" x2="188.6" y2="438.1" stroke="#000" stroke-width="1.6"/>
<line x1="171.2" y1="434.7" x2="171.2" y2="441.5" stroke="#000" stroke-width="1.6"/>
<line x1="188.6" y1="434.7" x2="188.6" y2="441.5" stroke="#000" stroke-width="1.6"/>
<text x="179.9" y="440.6" font-size="13.3" font-weight="bold" font-style="normal" text-anchor="middle" fill="#000" stroke="#000" stroke-width="0.45">***</text>
<line x1="190.4" y1="429.6" x2="208.2" y2="429.6" stroke="#000" stroke-width="1.6"/>
<line x1="190.4" y1="426.2" x2="190.4" y2="433.0" stroke="#000" stroke-width="1.6"/>
<line x1="208.2" y1="426.2" x2="208.2" y2="433.0" stroke="#000" stroke-width="1.6"/>
<text x="199.3" y="432.1" font-size="13.3" font-weight="bold" font-style="normal" text-anchor="middle" fill="#000" stroke="#000" stroke-width="0.45">**</text>
<line x1="227.4" y1="332.6" x2="264.4" y2="332.6" stroke="#000" stroke-width="1.6"/>
<line x1="227.4" y1="329.2" x2="227.4" y2="336.0" stroke="#000" stroke-width="1.6"/>
<line x1="264.4" y1="329.2" x2="264.4" y2="336.0" stroke="#000" stroke-width="1.6"/>
<text x="245.9" y="335.1" font-size="13.3" font-weight="bold" font-style="normal" text-anchor="middle" fill="#000" stroke="#000" stroke-width="0.45">***</text>
<line x1="245.0" y1="342.8" x2="264" y2="342.8" stroke="#000" stroke-width="1.6"/>
<line x1="245.0" y1="339.4" x2="245.0" y2="346.2" stroke="#000" stroke-width="1.6"/>
<line x1="264" y1="339.4" x2="264" y2="346.2" stroke="#000" stroke-width="1.6"/>
<text x="254.5" y="345.3" font-size="13.3" font-weight="bold" font-style="normal" text-anchor="middle" fill="#000" stroke="#000" stroke-width="0.45">***</text>
<line x1="283.6" y1="397" x2="320.6" y2="397" stroke="#000" stroke-width="1.6"/>
<line x1="283.6" y1="393.6" x2="283.6" y2="400.4" stroke="#000" stroke-width="1.6"/>
<line x1="320.6" y1="393.6" x2="320.6" y2="400.4" stroke="#000" stroke-width="1.6"/>
<text x="302.1" y="399.5" font-size="13.3" font-weight="bold" font-style="normal" text-anchor="middle" fill="#000" stroke="#000" stroke-width="0.45">***</text>
<line x1="283.6" y1="407.5" x2="301" y2="407.5" stroke="#000" stroke-width="1.6"/>
<line x1="283.6" y1="404.1" x2="283.6" y2="410.9" stroke="#000" stroke-width="1.6"/>
<line x1="301" y1="404.1" x2="301" y2="410.9" stroke="#000" stroke-width="1.6"/>
<text x="292.3" y="410.0" font-size="13.3" font-weight="bold" font-style="normal" text-anchor="middle" fill="#000" stroke="#000" stroke-width="0.45">**</text>
<rect x="285.3" y="320.7" width="8.6" height="6.2" fill="#fff" stroke="#000" stroke-width="1.0"/>
<text x="298.4" y="326.2" font-size="8.02" font-weight="normal" font-style="normal" text-anchor="start" fill="#000" stroke="#000" stroke-width="0.34">γIR control spleen (n=8)</text>
<rect x="285.3" y="331.95" width="8.6" height="6.2" fill="#000" stroke="#000" stroke-width="1.0"/>
<text x="298.4" y="337.45" font-size="8.02" font-weight="normal" font-style="normal" text-anchor="start" fill="#000" stroke="#000" stroke-width="0.34">BMF spleen (n=8)</text>
<rect x="285.3" y="343.2" width="8.6" height="6.2" fill="#7d7d7d" stroke="#000" stroke-width="1.0"/>
<text x="298.4" y="348.7" font-size="8.02" font-weight="normal" font-style="normal" text-anchor="start" fill="#000" stroke="#000" stroke-width="0.34">BMF BM (n=8)</text>
<text x="-0.5" y="507.3" font-size="16" font-weight="bold" font-style="normal" text-anchor="start" fill="#000" stroke="#000" stroke-width="0.5">E</text>
<line x1="48.8" y1="634.7" x2="48.8" y2="496.95" stroke="#000" stroke-width="1.4"/>
<line x1="46.9" y1="634.0" x2="48.8" y2="634.0" stroke="#000" stroke-width="1.3"/>
<text x="46.1" y="635.4" font-size="7.4" font-weight="bold" font-style="normal" text-anchor="end" fill="#000">0</text>
<line x1="46.9" y1="616.95" x2="48.8" y2="616.95" stroke="#000" stroke-width="1.3"/>
<text x="46.1" y="618.35" font-size="7.4" font-weight="bold" font-style="normal" text-anchor="end" fill="#000">1</text>
<line x1="46.9" y1="599.9" x2="48.8" y2="599.9" stroke="#000" stroke-width="1.3"/>
<text x="46.1" y="601.3" font-size="7.4" font-weight="bold" font-style="normal" text-anchor="end" fill="#000">2</text>
<line x1="46.9" y1="582.85" x2="48.8" y2="582.85" stroke="#000" stroke-width="1.3"/>
<text x="46.1" y="584.25" font-size="7.4" font-weight="bold" font-style="normal" text-anchor="end" fill="#000">3</text>
<line x1="46.9" y1="565.8" x2="48.8" y2="565.8" stroke="#000" stroke-width="1.3"/>
<text x="46.1" y="567.2" font-size="7.4" font-weight="bold" font-style="normal" text-anchor="end" fill="#000">4</text>
<line x1="46.9" y1="548.75" x2="48.8" y2="548.75" stroke="#000" stroke-width="1.3"/>
<text x="46.1" y="550.15" font-size="7.4" font-weight="bold" font-style="normal" text-anchor="end" fill="#000">5</text>
<line x1="46.9" y1="531.7" x2="48.8" y2="531.7" stroke="#000" stroke-width="1.3"/>
<text x="46.1" y="533.1" font-size="7.4" font-weight="bold" font-style="normal" text-anchor="end" fill="#000">6</text>
<line x1="46.9" y1="514.65" x2="48.8" y2="514.65" stroke="#000" stroke-width="1.3"/>
<text x="46.1" y="516.05" font-size="7.4" font-weight="bold" font-style="normal" text-anchor="end" fill="#000">7</text>
<line x1="46.9" y1="497.6" x2="48.8" y2="497.6" stroke="#000" stroke-width="1.3"/>
<text x="46.1" y="499" font-size="7.4" font-weight="bold" font-style="normal" text-anchor="end" fill="#000">8</text>
<line x1="48.1" y1="634.0" x2="51.8" y2="634.0" stroke="#000" stroke-width="1.4"/>
<text x="37.2" y="563.7" font-size="8.2" font-weight="bold" font-style="normal" text-anchor="middle" fill="#000" transform="rotate(-90 37.2 563.7)">Expression relative to γIR control</text>
<text x="177.7" y="512.2" font-size="9.1" font-weight="normal" font-style="normal" text-anchor="middle" fill="#000" stroke="#000" stroke-width="0.34">CD8<tspan font-size="5.5" dy="-3">+</tspan><tspan dy="3"> T cells</tspan></text>
<line x1="58.2" y1="616.95" x2="58.2" y2="614.9" stroke="#000" stroke-width="1.3"/>
<line x1="54.7" y1="614.9" x2="61.7" y2="614.9" stroke="#000" stroke-width="1.3"/>
<rect x="51.9" y="616.95" width="12.6" height="17.05" fill="#fff" stroke="#000" stroke-width="1.3"/>
<line x1="76.9" y1="582" x2="76.9" y2="571.77" stroke="#000" stroke-width="1.3"/>
<line x1="73.4" y1="571.77" x2="80.4" y2="571.77" stroke="#000" stroke-width="1.3"/>
<rect x="70.6" y="582" width="12.6" height="52" fill="#000" stroke="#000" stroke-width="1.3"/>
<line x1="95.6" y1="537.67" x2="95.6" y2="514.65" stroke="#000" stroke-width="1.3"/>
<line x1="92.1" y1="514.65" x2="99.1" y2="514.65" stroke="#000" stroke-width="1.3"/>
<rect x="89.3" y="537.67" width="12.6" height="96.33" fill="#7d7d7d" stroke="#000" stroke-width="1.3"/>
<line x1="51.4" y1="637.3" x2="92.8" y2="637.3" stroke="#000" stroke-width="1.9"/>
<text x="75.4" y="644.7" font-size="7.9" font-weight="normal" font-style="normal" text-anchor="middle" fill="#000" stroke="#000" stroke-width="0.34">CXCR4</text>
<line x1="114.4" y1="616.95" x2="114.4" y2="616.27" stroke="#000" stroke-width="1.3"/>
<line x1="110.9" y1="616.27" x2="117.9" y2="616.27" stroke="#000" stroke-width="1.3"/>
<rect x="108.1" y="616.95" width="12.6" height="17.05" fill="#fff" stroke="#000" stroke-width="1.3"/>
<line x1="133.1" y1="612.69" x2="133.1" y2="611.84" stroke="#000" stroke-width="1.3"/>
<line x1="129.6" y1="611.84" x2="136.6" y2="611.84" stroke="#000" stroke-width="1.3"/>
<rect x="126.8" y="612.69" width="12.6" height="21.31" fill="#000" stroke="#000" stroke-width="1.3"/>
<line x1="151.8" y1="617.8" x2="151.8" y2="617.29" stroke="#000" stroke-width="1.3"/>
<line x1="148.3" y1="617.29" x2="155.3" y2="617.29" stroke="#000" stroke-width="1.3"/>
<rect x="145.5" y="617.8" width="12.6" height="16.2" fill="#7d7d7d" stroke="#000" stroke-width="1.3"/>
<line x1="107" y1="637.3" x2="148.5" y2="637.3" stroke="#000" stroke-width="1.9"/>
<text x="133.4" y="644.7" font-size="7.9" font-weight="normal" font-style="normal" text-anchor="middle" fill="#000" stroke="#000" stroke-width="0.34">CXCR7</text>
<line x1="170.6" y1="617.97" x2="170.6" y2="616.95" stroke="#000" stroke-width="1.3"/>
<line x1="167.1" y1="616.95" x2="174.1" y2="616.95" stroke="#000" stroke-width="1.3"/>
<rect x="164.3" y="617.97" width="12.6" height="16.03" fill="#fff" stroke="#000" stroke-width="1.3"/>
<line x1="189.3" y1="592.74" x2="189.3" y2="586.94" stroke="#000" stroke-width="1.3"/>
<line x1="185.8" y1="586.94" x2="192.8" y2="586.94" stroke="#000" stroke-width="1.3"/>
<rect x="183" y="592.74" width="12.6" height="41.26" fill="#000" stroke="#000" stroke-width="1.3"/>
<line x1="208.0" y1="607.4" x2="208.0" y2="604.33" stroke="#000" stroke-width="1.3"/>
<line x1="204.5" y1="604.33" x2="211.5" y2="604.33" stroke="#000" stroke-width="1.3"/>
<rect x="201.7" y="607.4" width="12.6" height="26.6" fill="#7d7d7d" stroke="#000" stroke-width="1.3"/>
<line x1="167.7" y1="637.0" x2="212.3" y2="637.0" stroke="#000" stroke-width="1.9"/>
<text x="189.9" y="644.5" font-size="7.9" font-weight="normal" font-style="normal" text-anchor="middle" fill="#000" stroke="#000" stroke-width="0.34">CX3CR1</text>
<line x1="226.8" y1="618.14" x2="226.8" y2="613.54" stroke="#000" stroke-width="1.3"/>
<line x1="223.3" y1="613.54" x2="230.3" y2="613.54" stroke="#000" stroke-width="1.3"/>
<rect x="220.5" y="618.14" width="12.6" height="15.86" fill="#fff" stroke="#000" stroke-width="1.3"/>
<line x1="245.5" y1="618.14" x2="245.5" y2="615.07" stroke="#000" stroke-width="1.3"/>
<line x1="242" y1="615.07" x2="249" y2="615.07" stroke="#000" stroke-width="1.3"/>
<rect x="239.2" y="618.14" width="12.6" height="15.86" fill="#000" stroke="#000" stroke-width="1.3"/>
<line x1="264.2" y1="593.25" x2="264.2" y2="587.79" stroke="#000" stroke-width="1.3"/>
<line x1="260.7" y1="587.79" x2="267.7" y2="587.79" stroke="#000" stroke-width="1.3"/>
<rect x="257.9" y="593.25" width="12.6" height="40.75" fill="#7d7d7d" stroke="#000" stroke-width="1.3"/>
<line x1="224" y1="637.0" x2="267.5" y2="637.0" stroke="#000" stroke-width="1.9"/>
<text x="244" y="644.4" font-size="7.9" font-weight="normal" font-style="normal" text-anchor="middle" fill="#000" stroke="#000" stroke-width="0.34">CCR5</text>
<line x1="283" y1="617.8" x2="283" y2="616.95" stroke="#000" stroke-width="1.3"/>
<line x1="279.5" y1="616.95" x2="286.5" y2="616.95" stroke="#000" stroke-width="1.3"/>
<rect x="276.7" y="617.8" width="12.6" height="16.2" fill="#fff" stroke="#000" stroke-width="1.3"/>
<line x1="301.7" y1="613.54" x2="301.7" y2="611.83" stroke="#000" stroke-width="1.3"/>
<line x1="298.2" y1="611.83" x2="305.2" y2="611.83" stroke="#000" stroke-width="1.3"/>
<rect x="295.4" y="613.54" width="12.6" height="20.46" fill="#000" stroke="#000" stroke-width="1.3"/>
<line x1="320.4" y1="598.2" x2="320.4" y2="592.23" stroke="#000" stroke-width="1.3"/>
<line x1="316.9" y1="592.23" x2="323.9" y2="592.23" stroke="#000" stroke-width="1.3"/>
<rect x="314.1" y="598.2" width="12.6" height="35.8" fill="#7d7d7d" stroke="#000" stroke-width="1.3"/>
<line x1="280.4" y1="637.2" x2="324" y2="637.2" stroke="#000" stroke-width="1.9"/>
<text x="299.3" y="645.2" font-size="7.9" font-weight="normal" font-style="normal" text-anchor="middle" fill="#000" stroke="#000" stroke-width="0.34">CXCR3</text>
<line x1="259" y1="634.0" x2="329.2" y2="634.0" stroke="#000" stroke-width="1.3"/>
<line x1="59.3" y1="510" x2="96.3" y2="510" stroke="#000" stroke-width="1.6"/>
<line x1="59.3" y1="506.6" x2="59.3" y2="513.4" stroke="#000" stroke-width="1.6"/>
<line x1="96.3" y1="506.6" x2="96.3" y2="513.4" stroke="#000" stroke-width="1.6"/>
<text x="77.8" y="512.5" font-size="13.3" font-weight="bold" font-style="normal" text-anchor="middle" fill="#000" stroke="#000" stroke-width="0.45">***</text>
<line x1="59.3" y1="566.3" x2="76.7" y2="566.3" stroke="#000" stroke-width="1.6"/>
<line x1="59.3" y1="562.9" x2="59.3" y2="569.7" stroke="#000" stroke-width="1.6"/>
<line x1="76.7" y1="562.9" x2="76.7" y2="569.7" stroke="#000" stroke-width="1.6"/>
<text x="68.0" y="568.8" font-size="13.3" font-weight="bold" font-style="normal" text-anchor="middle" fill="#000" stroke="#000" stroke-width="0.45">**</text>
<line x1="170" y1="580.2" x2="187.4" y2="580.2" stroke="#000" stroke-width="1.6"/>
<line x1="170" y1="576.8" x2="170" y2="583.6" stroke="#000" stroke-width="1.6"/>
<line x1="187.4" y1="576.8" x2="187.4" y2="583.6" stroke="#000" stroke-width="1.6"/>
<text x="178.7" y="582.7" font-size="13.3" font-weight="bold" font-style="normal" text-anchor="middle" fill="#000" stroke="#000" stroke-width="0.45">***</text>
<line x1="189.2" y1="571.4" x2="207.0" y2="571.4" stroke="#000" stroke-width="1.6"/>
<line x1="189.2" y1="568.0" x2="189.2" y2="574.8" stroke="#000" stroke-width="1.6"/>
<line x1="207.0" y1="568.0" x2="207.0" y2="574.8" stroke="#000" stroke-width="1.6"/>
<text x="198.1" y="573.9" font-size="13.3" font-weight="bold" font-style="normal" text-anchor="middle" fill="#000" stroke="#000" stroke-width="0.45">*</text>
<line x1="226.2" y1="571.4" x2="263.2" y2="571.4" stroke="#000" stroke-width="1.6"/>
<line x1="226.2" y1="568.0" x2="226.2" y2="574.8" stroke="#000" stroke-width="1.6"/>
<line x1="263.2" y1="568.0" x2="263.2" y2="574.8" stroke="#000" stroke-width="1.6"/>
<text x="244.7" y="573.9" font-size="13.3" font-weight="bold" font-style="normal" text-anchor="middle" fill="#000" stroke="#000" stroke-width="0.45">**</text>
<line x1="245.4" y1="580.2" x2="263.2" y2="580.2" stroke="#000" stroke-width="1.6"/>
<line x1="245.4" y1="576.8" x2="245.4" y2="583.6" stroke="#000" stroke-width="1.6"/>
<line x1="263.2" y1="576.8" x2="263.2" y2="583.6" stroke="#000" stroke-width="1.6"/>
<text x="254.3" y="582.7" font-size="13.3" font-weight="bold" font-style="normal" text-anchor="middle" fill="#000" stroke="#000" stroke-width="0.45">**</text>
<line x1="282.4" y1="585" x2="319.4" y2="585" stroke="#000" stroke-width="1.6"/>
<line x1="282.4" y1="581.6" x2="282.4" y2="588.4" stroke="#000" stroke-width="1.6"/>
<line x1="319.4" y1="581.6" x2="319.4" y2="588.4" stroke="#000" stroke-width="1.6"/>
<text x="300.9" y="587.5" font-size="13.3" font-weight="bold" font-style="normal" text-anchor="middle" fill="#000" stroke="#000" stroke-width="0.45">*</text>
<rect x="285.3" y="509.1" width="8.6" height="6.2" fill="#fff" stroke="#000" stroke-width="1.0"/>
<text x="298.4" y="514.6" font-size="8.02" font-weight="normal" font-style="normal" text-anchor="start" fill="#000" stroke="#000" stroke-width="0.34">γIR control spleen (n=8)</text>
<rect x="285.3" y="520.9" width="8.6" height="6.2" fill="#000" stroke="#000" stroke-width="1.0"/>
<text x="298.4" y="526.4" font-size="8.02" font-weight="normal" font-style="normal" text-anchor="start" fill="#000" stroke="#000" stroke-width="0.34">BMF spleen (n=8)</text>
<rect x="285.3" y="532.7" width="8.6" height="6.2" fill="#7d7d7d" stroke="#000" stroke-width="1.0"/>
<text x="298.4" y="538.2" font-size="8.02" font-weight="normal" font-style="normal" text-anchor="start" fill="#000" stroke="#000" stroke-width="0.34">BMF BM (n=8)</text>
</svg></body></html>
